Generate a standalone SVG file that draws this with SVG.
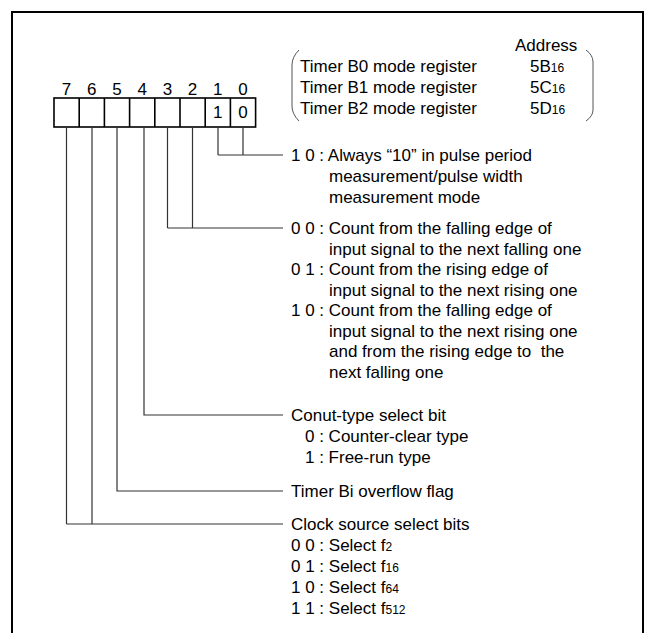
<svg xmlns="http://www.w3.org/2000/svg" width="647" height="633" viewBox="0 0 647 633">
<style>
text{font-family:"Liberation Sans",Arial,sans-serif;font-size:17px;fill:#000}
.sub{font-size:12px}
.num{text-anchor:middle}
.cell{fill:#fff;stroke:#000;stroke-width:1.6}
.conn{fill:none;stroke:#333;stroke-width:1.2}
.brk{fill:none;stroke:#555;stroke-width:1}
</style>
<rect x="0" y="0" width="647" height="633" fill="#fff"/>
<rect id="frame" x="12" y="12" width="631" height="650" fill="none" stroke="#000" stroke-width="2"/>
<g id="header">
<text x="515" y="51">Address</text>
<path class="brk" d="M299 50 Q292 57 292 65 V106 Q292 114 299 121"/>
<path class="brk" d="M586 50 Q593 55 593 62 V110 Q593 116 586 121"/>
<text x="300" y="72">Timer B0 mode register</text>
<text x="300" y="93">Timer B1 mode register</text>
<text x="300" y="114">Timer B2 mode register</text>
<text x="530" y="72">5B<tspan class="sub">16</tspan></text>
<text x="530" y="93">5C<tspan class="sub">16</tspan></text>
<text x="530" y="114">5D<tspan class="sub">16</tspan></text>
</g>
<g id="register">
<g class="num">
<text x="66.6" y="95">7</text>
<text x="91.8" y="95">6</text>
<text x="117" y="95">5</text>
<text x="142.2" y="95">4</text>
<text x="167.4" y="95">3</text>
<text x="192.6" y="95">2</text>
<text x="217.8" y="95">1</text>
<text x="243" y="95">0</text>
</g>
<rect class="cell" x="54" y="98" width="201.6" height="29"/>
<path d="M79.2 98V127M104.4 98V127M129.6 98V127M154.8 98V127M180 98V127M205.2 98V127M230.4 98V127" stroke="#000" stroke-width="1.6"/>
<text class="num" x="217.8" y="118">1</text>
<text class="num" x="243" y="118">0</text>
</g>
<g id="connectors">
<path class="conn" d="M218 127V155M243 127V155M218 155H283"/>
<path class="conn" d="M167.5 127V228M192.5 127V228M167.5 228H283"/>
<path class="conn" d="M144 127V415H283"/>
<path class="conn" d="M117 127V491H283"/>
<path class="conn" d="M66.5 127V524M92 127V524M66.5 524H283"/>
</g>
<g id="bits10">
<text x="291" y="161">1 0 : Always “10” in pulse period</text>
<text x="329" y="182">measurement/pulse width</text>
<text x="329" y="203">measurement mode</text>
</g>
<g id="bits32">
<text x="291" y="234">0 0 : Count from the falling edge of</text>
<text x="329" y="254.5">input signal to the next falling one</text>
<text x="291" y="275">0 1 : Count from the rising edge of</text>
<text x="329" y="295.5">input signal to the next rising one</text>
<text x="291" y="316">1 0 : Count from the falling edge of</text>
<text x="329" y="336.5">input signal to the next rising one</text>
<text x="329" y="357" xml:space="preserve">and from the rising edge to  the</text>
<text x="329" y="377.5">next falling one</text>
</g>
<g id="bit4">
<text x="291" y="421">Conut-type select bit</text>
<text x="305" y="442">0 : Counter-clear type</text>
<text x="305" y="463">1 : Free-run type</text>
</g>
<g id="bit5">
<text x="291" y="497">Timer Bi overflow flag</text>
</g>
<g id="bits76">
<text x="291" y="530">Clock source select bits</text>
<text x="291" y="551">0 0 : Select f<tspan class="sub">2</tspan></text>
<text x="291" y="572">0 1 : Select f<tspan class="sub">16</tspan></text>
<text x="291" y="593">1 0 : Select f<tspan class="sub">64</tspan></text>
<text x="291" y="614">1 1 : Select f<tspan class="sub">512</tspan></text>
</g>
</svg>
